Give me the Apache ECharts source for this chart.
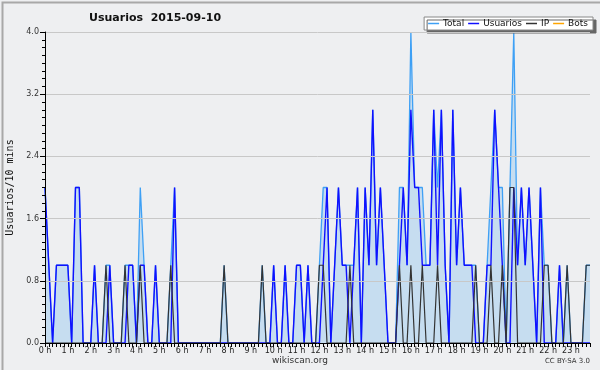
<!DOCTYPE html>
<html>
<head>
<meta charset="utf-8">
<script src="https://cdn.jsdelivr.net/npm/echarts@6/dist/echarts.min.js"></script>
<style>
  html, body { margin: 0; padding: 0; background: #eeeff1; }
  #charts { width: 600px; height: 370px; }
</style>
</head>
<body>
<div id="charts"></div>
<script>
// etiquetas de las horas (un tick cada 6 puntos de 10 min)
var hourLabels = ['0 h','1 h','2 h','3 h','4 h','5 h','6 h','7 h','8 h','9 h','10 h','11 h',
                  '12 h','13 h','14 h','15 h','16 h','17 h','18 h','19 h','20 h','21 h','22 h','23 h'];

// una fila por hora, 6 valores (cada 10 min)
var total = [
  2,1,0,1,1,1,  1,0,2,2,0,0,  0,1,0,0,1,1,  0,0,0,1,1,1,
  0,2,1,0,0,1,  0,0,0,1,2,0,  0,0,0,0,0,0,  0,0,0,0,0,1,
  0,0,0,0,0,0,  0,0,0,1,0,0,  1,0,0,1,0,0,  1,1,0,1,0,0,
  1,2,2,0,1,2,  1,1,1,1,2,0,  2,1,3,1,2,1,  0,0,0,2,2,1,
  4,2,2,2,1,1,  3,2,3,1,0,3,  1,2,1,1,1,1,  0,0,1,2,3,2,
  2,0,2,4,1,2,  1,2,1,0,2,1,  1,0,0,1,0,1,  0,0,0,0,1,1
];
var usuarios = [
  2,1,0,1,1,1,  1,0,2,2,0,0,  0,1,0,0,0,1,  0,0,0,0,1,1,
  0,1,1,0,0,1,  0,0,0,0,2,0,  0,0,0,0,0,0,  0,0,0,0,0,0,
  0,0,0,0,0,0,  0,0,0,0,0,0,  1,0,0,1,0,0,  1,1,0,1,0,0,
  0,1,2,0,1,2,  1,1,0,1,2,0,  2,1,3,1,2,1,  0,0,0,1,2,1,
  3,2,2,1,1,1,  3,1,3,1,0,3,  1,2,1,1,1,0,  0,0,1,1,3,2,
  1,0,0,2,1,2,  1,2,1,0,2,0,  0,0,0,1,0,0,  0,0,0,0,0,0
];
var ip = [
  0,0,0,0,0,0,  0,0,0,0,0,0,  0,0,0,0,1,0,  0,0,0,1,0,0,
  0,1,0,0,0,0,  0,0,0,1,0,0,  0,0,0,0,0,0,  0,0,0,0,0,1,
  0,0,0,0,0,0,  0,0,0,1,0,0,  0,0,0,0,0,0,  0,0,0,0,0,0,
  1,1,0,0,0,0,  0,0,1,0,0,0,  0,0,0,0,0,0,  0,0,0,1,0,0,
  1,0,0,1,0,0,  0,1,0,0,0,0,  0,0,0,0,0,1,  0,0,0,1,0,0,
  1,0,2,2,0,0,  0,0,0,0,0,1,  1,0,0,0,0,1,  0,0,0,0,1,1
];
var bots = [
  0,0,0,0,0,0,  0,0,0,0,0,0,  0,0,0,0,0,0,  0,0,0,0,0,0,
  0,0,0,0,0,0,  0,0,0,0,0,0,  0,0,0,0,0,0,  0,0,0,0,0,0,
  0,0,0,0,0,0,  0,0,0,0,0,0,  0,0,0,0,0,0,  0,0,0,0,0,0,
  0,0,0,0,0,0,  0,0,0,0,0,0,  0,0,0,0,0,0,  0,0,0,0,0,0,
  0,0,0,0,0,0,  0,0,0,0,0,0,  0,0,0,0,0,0,  0,0,0,0,0,0,
  0,0,0,0,0,0,  0,0,0,0,0,0,  0,0,0,0,0,0,  0,0,0,0,0,0
];

function toPairs(arr){
	var res = [];
	for(var i=0;i<arr.length;i++){
		res.push([i, arr[i]]);
	}
	return res;
}

var charts = echarts.init(document.getElementById('charts'));
var option = {
	backgroundColor: '#eeeff1',
	animation: false,
	title: {
		text: 'Usuarios  2015-09-10',
		left: 84,
		top: 8,
		textStyle: { fontFamily: 'DejaVu Sans', fontWeight: 'bold', fontSize: 11, color: '#111' }
	},
	legend: {
		right: 7,
		top: 17,
		padding: [2, 5, 2, 4],
		itemGap: 4,
		itemWidth: 11,
		itemHeight: 1.5,
		icon: 'rect',
		backgroundColor: '#ffffff',
		borderColor: '#888',
		borderWidth: 1,
		shadowColor: '#666',
		shadowOffsetX: 3,
		shadowOffsetY: 3,
		shadowBlur: 0,
		textStyle: { fontFamily: 'DejaVu Sans', fontSize: 9, color: '#111', padding: [0, 0, 0, -1] },
		data: ['Total', 'Usuarios', 'IP', 'Bots']
	},
	grid: { left: 45, right: 10, top: 32, bottom: 27, outerBoundsMode: 'none', containLabel: false },
	xAxis: {
		type: 'value',
		min: 0,
		max: 143,
		interval: 6,
		z: 5,
		axisLine: { lineStyle: { color: '#000', width: 1 } },
		axisTick: { length: 4, lineStyle: { color: '#000' } },
		minorTick: { show: true, splitNumber: 6, length: 4, lineStyle: { color: '#000' } },
		splitLine: { show: false },
		axisLabel: {
			margin: 4,
			fontFamily: 'DejaVu Sans',
			fontSize: 8,
			color: '#222',
			showMaxLabel: false,
			formatter: function(v){
				return (v % 6 === 0) ? hourLabels[v / 6] : '';
			}
		}
	},
	yAxis: {
		type: 'value',
		min: 0,
		max: 4,
		interval: 0.8,
		name: 'Usuarios/10 mins',
		nameLocation: 'middle',
		nameGap: 30,
		nameTextStyle: { fontFamily: 'DejaVu Sans Mono', fontSize: 10, color: '#111' },
		z: 5,
		axisLine: { show: true, lineStyle: { color: '#000', width: 1 } },
		axisTick: { show: true, length: 5, lineStyle: { color: '#000' } },
		minorTick: { show: true, splitNumber: 8, length: 3, lineStyle: { color: '#000' } },
		splitLine: { show: true, lineStyle: { color: '#c8c8c8', width: 1 } },
		axisLabel: {
			margin: 6,
			fontFamily: 'DejaVu Sans',
			fontSize: 8,
			color: '#333',
			formatter: function(v){ return v.toFixed(1); }
		}
	},
	series: [{
		name: 'Total',
		type: 'line',
		symbol: 'none',
		z: 2,
		itemStyle: { color: '#3ea0f5' },
		lineStyle: { color: '#3ea0f5', width: 1.3 },
		areaStyle: { color: '#c6ddf0', opacity: 1 },
		data: toPairs(total)
	},{
		name: 'Usuarios',
		type: 'line',
		symbol: 'none',
		z: 3,
		itemStyle: { color: '#1010ff' },
		lineStyle: { color: '#1010ff', width: 1.4 },
		data: toPairs(usuarios)
	},{
		name: 'IP',
		type: 'line',
		symbol: 'none',
		z: 4,
		itemStyle: { color: '#333333' },
		lineStyle: { color: '#333333', width: 1.2 },
		data: toPairs(ip)
	},{
		name: 'Bots',
		type: 'line',
		symbol: 'none',
		z: 1,
		itemStyle: { color: '#ffa500' },
		lineStyle: { color: '#ffa500', width: 1.2 },
		data: toPairs(bots)
	}],
	graphic: [{
		type: 'rect',
		left: 0, top: 0,
		shape: { width: 599, height: 369 },
		style: { fill: 'none', stroke: '#a8a8a8', lineWidth: 2 },
		silent: true
	},{
		type: 'text',
		left: 'center',
		top: 356,
		style: { text: 'wikiscan.org', font: '9px "DejaVu Sans"', fill: '#333' }
	},{
		type: 'text',
		right: 10,
		top: 358,
		style: { text: 'CC BY-SA 3.0', font: '7px "DejaVu Sans"', fill: '#333' }
	}]
};
charts.setOption(option);
</script>
</body>
</html>
